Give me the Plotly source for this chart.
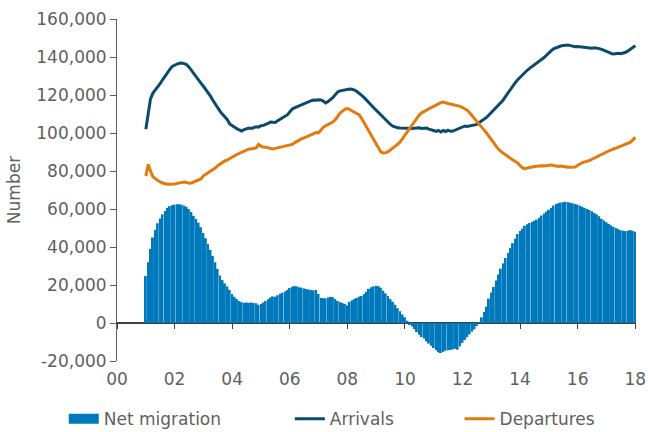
import pandas as pd
import plotly.graph_objects as go

# Monthly values, thousands of people, Jan 2001 - Jan 2018
arrivals = [
    102, 112, 118, 121, 122.5, 124, 126, 128, 130, 132,
    133.5, 135, 135.8, 136.3, 136.7, 136.8, 136.5, 136, 134.8, 133.2,
    131.5, 129.5, 128, 126.3, 124.6, 123, 121.6, 119.4, 117.2, 115,
    113, 111.4, 109.8, 108.3, 107, 104.8, 103.8, 103, 102.3, 101.6,
    101, 101.8, 102.3, 102.6, 102.4, 103, 103.3, 103.1, 103.8, 104,
    104.3, 105, 105.8, 105.8, 105.5, 106.5, 107.4, 108, 108.8, 109.5,
    111, 112.6, 113.2, 113.8, 114.4, 115, 115.4, 115.8, 116.4, 117,
    117.4, 117.2, 117.5, 117.4, 116.8, 115.8, 116.6, 117.4, 118.6, 120.2,
    121.6, 122.2, 122.5, 122.8, 123, 123.2, 123, 122.6, 121.8, 121,
    119.8, 118.6, 117.4, 116, 114.6, 113.3, 112, 110.6, 109.2, 108,
    106.8, 105.6, 104.5, 103.6, 103, 102.7, 102.6, 102.6, 102.3, 102.5,
    102.2, 102.4, 102.6, 102.5, 102.7, 102.4, 102.6, 102.6, 102, 101.6,
    101.2, 100.9, 101.4, 100.5, 101.3, 100.8, 101.5, 100.9, 101, 101.6,
    102.2, 102.8, 103.4, 103.7, 103.4, 103.7, 104, 104.2, 104.5, 105.5,
    106.3, 107.2, 108.2, 109.5, 110.8, 112.2, 113.6, 115, 116.2, 117.4,
    119.3, 121.2, 123.2, 125, 126.5, 128, 129.4, 130.8, 131.8, 133,
    134, 134.9, 135.8, 136.8, 137.6, 138.6, 139.7, 140.9, 142.3, 143.3,
    144.3, 144.9, 145.4, 145.8, 146.1, 146.3, 146.3, 146, 145.6, 145.4,
    145.5, 145.3, 145.2, 145.3, 145, 144.7, 144.6, 144.8, 144.7, 144.4,
    144, 143.7, 143, 142.5, 141.8, 141.6, 141.8, 142, 141.7, 142,
    142.5, 143.2, 144, 144.8, 146,
]

departures = [
    77.4, 83.5, 80, 77, 76, 75, 74.2, 73.7, 73.2, 73,
    73, 73, 73.2, 73.5, 73.8, 74, 74.2, 74, 73.6, 73.7,
    74.2, 74.8, 75.3, 75.8, 77.5, 78.3, 79, 80, 80.8, 81.6,
    82.8, 83.8, 84.7, 85.3, 85.9, 86.7, 87.4, 88, 88.7, 89.3,
    89.9, 90.5, 91.2, 91.6, 91.6, 91.8, 92.2, 94, 93, 92.6,
    92.6, 92.3, 91.8, 91.6, 91.9, 92.2, 92.2, 92.6, 92.8, 93.2,
    93.4, 94, 94.8, 95.6, 96.3, 97, 97.4, 98, 98.6, 99.3,
    100, 100.2, 100, 101.8, 103, 103.8, 104.4, 105, 105.8, 107,
    108.8, 110.5, 111.5, 112.5, 113, 112.3, 111.6, 111, 110.4, 109.5,
    107.6, 105.4, 103, 100.6, 98.2, 96, 93.8, 91.6, 90, 89.5,
    89.6, 90.2, 91, 92, 93.1, 94.2, 95.3, 97, 98.8, 100.7,
    102.6, 104.5, 106.3, 107.9, 109.5, 110.6, 111.4, 112, 112.6, 113.4,
    114, 114.8, 115.5, 116, 116.3, 115.8, 115.5, 115.3, 115, 114.8,
    114.6, 114, 113.4, 112.7, 112, 110.6, 109, 107.4, 105.8, 104.4,
    103, 101.5, 100, 98.2, 96.3, 94.4, 92.6, 91.4, 90.3, 89.3,
    88.4, 87.4, 86.6, 85.8, 85, 84.2, 82.8, 81.6, 81.2, 81.4,
    81.8, 82.1, 82.4, 82.6, 82.6, 82.8, 82.7, 82.9, 83, 83.2,
    82.9, 82.6, 82.4, 82.6, 82.3, 82.1, 82, 82, 82.2, 82.1,
    83, 83.8, 84.4, 84.8, 85, 85.5, 86.2, 86.9, 87.6, 88.3,
    88.9, 89.5, 90, 90.6, 91.2, 91.6, 92, 92.6, 93.1, 93.6,
    94, 94.6, 95.2, 96.4, 97.8,
]

net_migration = [
    24.7, 32, 39, 45, 49, 52.5, 55, 57.2, 59, 60.6,
    61.5, 62, 62.3, 62.5, 62.5, 62.3, 61.8, 61.2, 60, 58.4,
    56.4, 54.8, 52.8, 50.4, 47.4, 44.6, 41.6, 38.5, 35.3, 32,
    28.5, 25, 22.6, 20.8, 19.2, 17.4, 15.2, 13.8, 12.6, 11.6,
    11, 10.6, 10.8, 10.6, 10.8, 10.5, 10.4, 9.6, 10, 10.8,
    11.6, 12.5, 13.4, 14, 13.8, 14.6, 15.4, 16, 16.6, 17.4,
    18.4, 19.1, 19.4, 19.3, 18.8, 18.6, 18.2, 17.9, 17.6, 17.4,
    17.2, 17.4, 15.3, 13.2, 13.1, 13, 13.4, 13.8, 13.7, 12.6,
    11.6, 11, 10.6, 10, 9.3, 11.2, 12, 12.6, 13.2, 13.9,
    14.2, 15.2, 16.4, 18, 18.8, 19.3, 19.6, 19.4, 18.6, 17,
    15.6, 14.2, 12.6, 11.2, 9.6, 7.8, 6.2, 4.5, 3, 1.2,
    -0.6, -1.8, -3.2, -4.8, -6.2, -7.4, -8.2, -9.6, -10.8, -12,
    -13.2, -14.3, -15.4, -15.8, -15.2, -14.6, -14.3, -14.2, -13.9, -13.6,
    -14, -12.3, -10.5, -8.9, -7.5, -6, -4.6, -3.4, -1.6, 0.5,
    3, 5.8, 8.6, 12.8, 16, 19, 22.4, 25.5, 28.6, 31.4,
    34.2, 36.8, 39.4, 42, 44.4, 46.8, 48.4, 49.6, 51.2, 52,
    52.6, 53.2, 53.8, 54.4, 55.4, 56.6, 57.6, 58.6, 59.6, 60.6,
    61.8, 62.6, 63, 63.4, 63.6, 63.8, 63.6, 63.3, 63, 62.6,
    62.3, 61.7, 61.2, 60.6, 60, 59.5, 58.8, 58, 57.2, 56.2,
    54.8, 54, 53, 52.2, 51.4, 50.6, 50, 49.4, 48.8, 48.6,
    48.4, 48.6, 48.9, 48.5, 48,
]

start_month = "2001-01-01"
year_ticks = ["2000-01-01", "2002-01-01", "2004-01-01", "2006-01-01", "2008-01-01",
              "2010-01-01", "2012-01-01", "2014-01-01", "2016-01-01", "2018-01-01"]
year_labels = ["00", "02", "04", "06", "08", "10", "12", "14", "16", "18"]
y_ticks = [-20, 0, 20, 40, 60, 80, 100, 120, 140, 160]
y_labels = ["-20,000", "0", "20,000", "40,000", "60,000", "80,000",
            "100,000", "120,000", "140,000", "160,000"]

n = min(len(arrivals), len(departures), len(net_migration))
months = pd.date_range(start_month, periods=n, freq="MS")

BAR = "#0079BC"
NAVY = "#0B4A6F"
ORANGE = "#E27B0C"
GREY = "#5f5f5f"
FONT = "DejaVu Sans"
FS = 17
x_range = ["2000-01-01", "2018-01-10"]

fig = go.Figure()
fig.add_trace(go.Bar(x=months, y=net_migration[:n], marker=dict(color=BAR, line=dict(width=0)),
                     name="Net migration", showlegend=False))
fig.add_trace(go.Scatter(x=months, y=arrivals[:n], mode="lines", name="Arrivals",
                         line=dict(color=NAVY, width=3), legend="legend2"))
fig.add_trace(go.Scatter(x=months, y=departures[:n], mode="lines", name="Departures",
                         line=dict(color=ORANGE, width=3), legend="legend3"))
# legend swatch for bars (wide rectangle)
fig.add_trace(go.Scatter(x=[None], y=[None], mode="lines", name="Net migration",
                         line=dict(color=BAR, width=11), xaxis="x2", legend="legend",
                         hoverinfo="skip"))

leg_common = dict(orientation="h", y=-0.17, yanchor="middle", xanchor="left",
                  bgcolor="rgba(0,0,0,0)", font=dict(family=FONT, size=FS, color=GREY))

fig.update_layout(
    width=648, height=432,
    margin=dict(l=117, r=12, t=19, b=71, autoexpand=False),
    plot_bgcolor="white", paper_bgcolor="white",
    bargap=0.12,
    font=dict(family=FONT, size=FS, color=GREY),
    xaxis=dict(type="date", range=x_range, tickvals=year_ticks, ticktext=year_labels,
               ticks="", showline=False, showgrid=False, zeroline=False, automargin=False,
               tickfont=dict(family=FONT, size=FS, color=GREY), ticklabelstandoff=6),
    xaxis2=dict(type="date", range=x_range, overlaying="x", anchor="free", position=20 / 180,
                side="bottom", tickvals=year_ticks, showticklabels=False, ticks="outside",
                ticklen=5, tickcolor="#404040", showline=True, linecolor="#404040",
                linewidth=1.5, showgrid=False, zeroline=False, layer="below traces"),
    yaxis=dict(range=[-20, 160], tickvals=y_ticks, ticktext=y_labels, ticks="outside",
               ticklen=6, tickcolor=GREY, showline=True, linecolor=GREY, linewidth=1,
               showgrid=False, zeroline=False, automargin=False,
               tickfont=dict(family=FONT, size=FS, color=GREY),
               title=dict(text="Number", standoff=11, font=dict(family=FONT, size=FS, color=GREY))),
    legend=dict(x=-0.1026, **leg_common),
    legend2=dict(x=0.333, **leg_common),
    legend3=dict(x=0.660, **leg_common),
)

# remove the default 8px page margin so the figure fills the 648x432 window
fig.write_html("out.html", config={"displayModeBar": False},
               post_script="document.body.style.margin='0';document.body.style.overflow='hidden';")
